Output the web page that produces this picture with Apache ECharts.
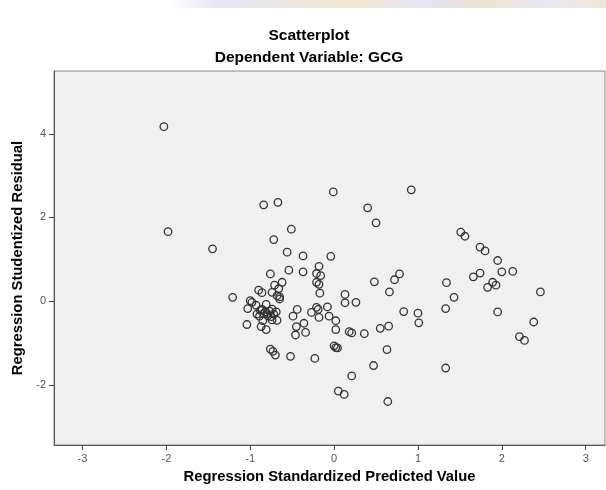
<!DOCTYPE html>
<html>
<head>
<meta charset="utf-8">
<script src="https://cdn.jsdelivr.net/npm/echarts@6/dist/echarts.min.js"></script>
<style>
html,body{margin:0;padding:0;background:#fff;}
#chart{width:606px;height:490px;}
</style>
</head>
<body>
<div id="chart"></div>
<script>
// Regression Standardized Predicted Value
const predicted = [
 -2.03,-1.98,-1.45,-0.84,-0.67,-0.01,0.92,0.40,0.50,-0.51,
 -0.72,-0.56,-0.37,-0.04,1.51,1.56,1.74,1.80,1.95,2.00,
 2.13,1.74,1.66,1.34,1.89,1.93,1.83,2.46,1.43,1.33,
 1.95,2.38,2.21,2.27,1.33,-0.18,-0.76,-0.54,-0.37,-0.21,
 -0.16,-0.21,-0.18,-0.62,-0.71,-0.66,-0.90,-0.86,-0.74,-0.68,
 -0.65,-0.17,0.48,0.72,0.78,0.66,0.13,0.13,0.26,-1.21,
 -1.00,-0.98,-1.03,-0.81,-0.86,-0.82,-0.77,-0.74,-0.69,-0.79,
 -0.75,-0.92,-0.89,-0.85,-0.68,-1.04,-0.87,-0.81,-0.44,-0.49,
 -0.27,-0.21,-0.19,-0.08,-0.18,-0.06,0.02,-0.36,-0.45,0.02,
 -0.34,-0.46,0.18,0.21,0.36,0.55,0.65,1.00,1.01,0.83,
 0.00,0.02,0.04,-0.76,-0.73,-0.70,-0.52,-0.23,0.63,0.47,
 0.21,0.05,0.12,0.64,-0.93,-0.88,-0.72,-0.80,-0.84,-0.74,
 -0.65
];
// Regression Studentized Residual
const residual = [
 4.17,1.66,1.25,2.30,2.36,2.61,2.66,2.23,1.87,1.72,
 1.47,1.17,1.08,1.07,1.65,1.55,1.29,1.20,0.97,0.70,
 0.71,0.67,0.58,0.44,0.45,0.38,0.33,0.22,0.09,-0.18,
 -0.26,-0.50,-0.85,-0.94,-1.60,0.83,0.65,0.74,0.70,0.66,
 0.61,0.45,0.40,0.45,0.38,0.30,0.26,0.20,0.21,0.13,
 0.10,0.19,0.46,0.51,0.65,0.22,0.16,-0.04,-0.03,0.09,
 0.01,-0.03,-0.18,-0.08,-0.20,-0.26,-0.24,-0.19,-0.26,-0.35,
 -0.37,-0.31,-0.36,-0.47,-0.46,-0.56,-0.61,-0.68,-0.20,-0.36,
 -0.27,-0.15,-0.20,-0.14,-0.39,-0.36,-0.47,-0.53,-0.61,-0.68,
 -0.75,-0.81,-0.73,-0.76,-0.78,-0.65,-0.60,-0.29,-0.52,-0.25,
 -1.07,-1.11,-1.12,-1.15,-1.20,-1.29,-1.32,-1.37,-1.16,-1.54,
 -1.79,-2.15,-2.23,-2.40,-0.10,-0.22,-0.31,-0.30,-0.30,-0.45,
 0.05
];
const xTicks = [-3,-2,-1,0,1,2,3];
const yTicks = [-2,0,2,4];
const chartTitle = 'Scatterplot';
const chartSubtitle = 'Dependent Variable: GCG';
const xName = 'Regression Standardized Predicted Value';
const yName = 'Regression Studentized Residual';

const points = predicted.map((v,i)=>[v, residual[i]]);
const FONT = '"Liberation Sans", Arial, sans-serif';

const chart = echarts.init(document.getElementById('chart'), null, {renderer:'canvas'});
chart.setOption({
  animation:false,
  backgroundColor:'#ffffff',
  graphic:[
    {type:'rect', left:0, top:0, shape:{width:606,height:8}, z:-1,
     style:{fill:new echarts.graphic.LinearGradient(0,0,1,0,[
       {offset:0,color:'#ffffff'},{offset:0.28,color:'#ffffff'},
       {offset:0.36,color:'#e6e4f5'},{offset:0.5,color:'#ece8de'},
       {offset:0.58,color:'#efe6cc'},{offset:0.7,color:'#e4e2f6'},
       {offset:0.8,color:'#ebe3cf'},{offset:0.9,color:'#e8e6f4'},
       {offset:1,color:'#efe8d6'}])}},
    {type:'text', x:309, y:36, style:{text:chartTitle, textAlign:'center', textVerticalAlign:'middle',
      font:'bold 15.5px ' + FONT, fill:'#000'}},
    {type:'text', x:309, y:58, style:{text:chartSubtitle, textAlign:'center', textVerticalAlign:'middle',
      font:'bold 15.5px ' + FONT, fill:'#000'}}
  ],
  grid:{left:54, top:71, right:1, bottom:45, show:true, backgroundColor:'#f0f0f0',
        borderColor:'#888', borderWidth:1},
  xAxis:{
    type:'value', min:-3.34, max:3.23,
    name:xName, nameLocation:'middle', nameGap:24,
    nameTextStyle:{fontFamily:FONT, fontWeight:'bold', fontSize:14.8, color:'#000'},
    splitLine:{show:false},
    axisLine:{show:true, onZero:false, lineStyle:{color:'#555', width:1}},
    axisTick:{show:true, length:5, customValues:xTicks, lineStyle:{color:'#444'}},
    axisLabel:{customValues:xTicks, fontFamily:FONT, fontSize:11, color:'#555', margin:8}
  },
  yAxis:{
    type:'value', min:-3.44, max:5.5,
    name:yName, nameLocation:'middle', nameGap:23,
    nameTextStyle:{fontFamily:FONT, fontWeight:'bold', fontSize:14.8, color:'#000'},
    splitLine:{show:false},
    axisLine:{show:true, onZero:false, lineStyle:{color:'#555', width:1}},
    axisTick:{show:true, length:5, customValues:yTicks, lineStyle:{color:'#444'}},
    axisLabel:{customValues:yTicks, fontFamily:FONT, fontSize:11, color:'#555', margin:8}
  },
  series:[{
    type:'scatter',
    data:points,
    symbol:'circle',
    symbolSize:7.5,
    itemStyle:{color:'rgba(0,0,0,0)', borderColor:'#333', borderWidth:1.3, opacity:1}
  }]
});
</script>
</body>
</html>
